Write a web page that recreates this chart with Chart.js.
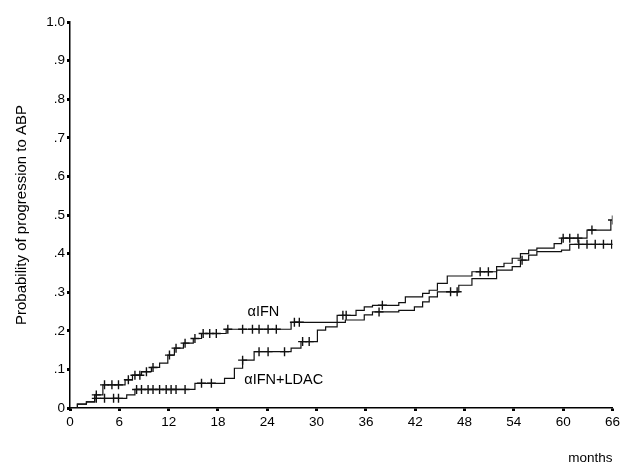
<!DOCTYPE html>
<html>
<head>
<meta charset="utf-8">
<script src="https://cdn.jsdelivr.net/npm/chart.js@4/dist/chart.umd.min.js"></script>
<style>
  html, body { margin: 0; padding: 0; background: #fff; }
  #wrap { width: 623px; height: 466px; }
</style>
</head>
<body>
<div id="wrap"><canvas id="kmChart" width="623" height="466"></canvas></div>
<script>
// tick labels
const monthTicks = [0, 6, 12, 18, 24, 30, 36, 42, 48, 54, 60, 66];
const yTickLabels = ["0", ".1", ".2", ".3", ".4", ".5", ".6", ".7", ".8", ".9", "1.0"];

// aIFN: step times (months) and cumulative probability after each step
const ifnTimes = [0, 0.9, 2, 3, 4, 6.7, 7.6, 8.7, 9.9, 10.9, 11.9, 12.7, 13.8, 15, 16, 19, 26.9,
    33.5, 35.8, 36.8, 40, 41.9, 42.9, 43.7, 44.7, 47.3, 48.9, 51.9, 53.8, 54.8, 55.8, 56.8, 59.8, 60.8, 66];
const ifnProbs = [0, 0.01, 0.016, 0.034, 0.06, 0.073, 0.085, 0.094, 0.105, 0.116, 0.137, 0.155, 0.168, 0.18, 0.193, 0.204, 0.222,
    0.228, 0.241, 0.249, 0.253, 0.262, 0.275, 0.288, 0.301, 0.318, 0.335, 0.357, 0.366, 0.383, 0.396, 0.405, 0.409, 0.424, 0.424];
const ifnCensored = [3.2, 4.2, 5.1, 5.9, 7.1, 7.9, 8.5, 9.3, 10.1, 12.1, 12.9, 14, 15.2, 16.2, 17, 17.8,
    19.2, 21, 22.2, 23, 24.1, 25.1, 27.3, 27.9, 37.6, 46.3, 47.1, 55, 61.9, 62.9, 63.9, 64.9, 65.9];

// aIFN+LDAC
const ldacTimes = [0, 0.9, 2, 3, 6.9, 7.9, 15.2, 18.8, 20, 21, 22.4, 26.9, 28.1, 30.1, 31.1, 32.5,
    34.8, 35.8, 36.8, 40, 40.8, 42.9, 43.7, 44.7, 45.9, 48.9, 51.9, 52.8, 53.8, 54.8, 55.8, 56.8, 58.9, 59.8, 62.9, 65.8];
const ldacProbs = [0, 0.01, 0.016, 0.025, 0.034, 0.048, 0.064, 0.077, 0.103, 0.124, 0.146, 0.155, 0.172, 0.202, 0.21, 0.24,
    0.253, 0.262, 0.266, 0.273, 0.288, 0.297, 0.305, 0.323, 0.342, 0.353, 0.366, 0.375, 0.388, 0.4, 0.409, 0.414, 0.426, 0.44, 0.461, 0.487];
const ldacCensored = [3.2, 4.2, 5.3, 5.9, 8.1, 8.7, 9.5, 10.1, 10.9, 11.7, 12.3, 12.9, 14, 16, 17.2, 21,
    23, 24.1, 26.1, 28.3, 29.1, 33.2, 33.6, 38, 49.9, 50.9, 60, 60.8, 61.8, 63.5, 66];

const ink = "#111";
const font = "'Liberation Sans', Arial, sans-serif";

// value of a step curve at time t
function stepValue(times, probs, t) {
    let v = probs[0];
    for (let i = 0; i < times.length; i++) {
        if (times[i] <= t) v = probs[i];
    }
    return v;
}

function curve(times, probs) {
    return times.map((t, i) => ({ x: t, y: probs[i] }));
}

function marks(times, probs, cens) {
    return cens.map(t => ({ x: t, y: stepValue(times, probs, t) }));
}

// curve labels written next to the lines
const curveLabels = {
    id: "curveLabels",
    afterDatasetsDraw(chart) {
        const { ctx, scales } = chart;
        ctx.save();
        ctx.fillStyle = "#000";
        ctx.font = "14.5px " + font;
        ctx.textBaseline = "middle";
        ctx.fillText("\u03b1IFN", scales.x.getPixelForValue(21.6), scales.y.getPixelForValue(0.249));
        ctx.fillText("\u03b1IFN+LDAC", scales.x.getPixelForValue(21.2), scales.y.getPixelForValue(0.073));
        ctx.restore();
    }
};

const ctx = document.getElementById("kmChart").getContext("2d");
new Chart(ctx, {
    type: "line",
    data: {
        datasets: [
            {
                label: "\u03b1IFN",
                data: curve(ifnTimes, ifnProbs),
                stepped: true,
                borderColor: ink,
                borderWidth: 1.2,
                pointRadius: 0,
                fill: false
            },
            {
                label: "\u03b1IFN+LDAC",
                data: curve(ldacTimes, ldacProbs),
                stepped: true,
                borderColor: ink,
                borderWidth: 1.2,
                pointRadius: 0,
                fill: false
            },
            {
                label: "censored aIFN",
                type: "scatter",
                data: marks(ifnTimes, ifnProbs, ifnCensored),
                pointStyle: "cross",
                pointRadius: 4.5,
                pointBorderWidth: 1.4,
                borderColor: ink,
                showLine: false
            },
            {
                label: "censored LDAC",
                type: "scatter",
                data: marks(ldacTimes, ldacProbs, ldacCensored),
                pointStyle: "cross",
                pointRadius: 4.5,
                pointBorderWidth: 1.4,
                borderColor: ink,
                showLine: false
            }
        ]
    },
    options: {
        responsive: false,
        animation: false,
        layout: { padding: { top: 22, right: 9, left: 0, bottom: 0 } },
        plugins: {
            legend: { display: false },
            tooltip: { enabled: false }
        },
        scales: {
            x: {
                type: "linear",
                min: 0,
                max: 66,
                afterBuildTicks: scale => { scale.ticks = monthTicks.map(v => ({ value: v })); },
                afterFit: scale => { scale.height = 58; },
                border: { display: true, color: "#000", width: 1.5 },
                grid: { drawOnChartArea: false, drawTicks: true, tickLength: 3, tickWidth: 3, color: "#000" },
                ticks: { color: "#000", font: { family: font, size: 13.5 }, padding: 3, maxRotation: 0 },
                title: {
                    display: true,
                    text: "months",
                    align: "end",
                    color: "#000",
                    font: { family: font, size: 13.5 },
                    padding: { top: 16, bottom: 0 }
                }
            },
            y: {
                min: 0,
                max: 1,
                afterBuildTicks: scale => { scale.ticks = yTickLabels.map((s, i) => ({ value: i / 10 })); },
                afterFit: scale => { scale.width = 70; },
                border: { display: true, color: "#000", width: 1.5 },
                grid: { drawOnChartArea: false, drawTicks: true, tickLength: 3, tickWidth: 3, color: "#000" },
                ticks: {
                    color: "#000",
                    font: { family: font, size: 13.5 },
                    padding: 2,
                    callback: (v, i) => yTickLabels[i]
                },
                title: {
                    display: true,
                    text: "Probability of progression to ABP",
                    color: "#000",
                    font: { family: font, size: 15 },
                    padding: { top: 13, bottom: 0 }
                }
            }
        }
    },
    plugins: [curveLabels]
});
</script>
</body>
</html>
